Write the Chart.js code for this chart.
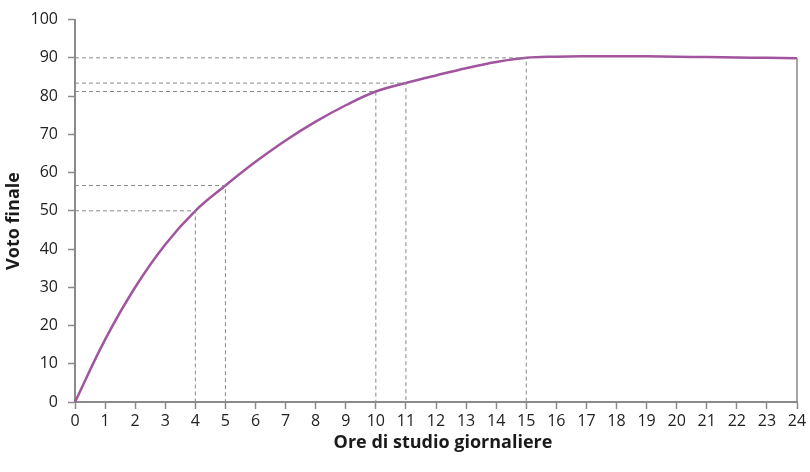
<!DOCTYPE html>
<html>
<head>
<meta charset="utf-8">
<script src="https://cdn.jsdelivr.net/npm/chart.js@4/dist/chart.umd.min.js"></script>
<style>
  html, body { margin: 0; padding: 0; background: #fff; }
  #wrap { width: 810px; height: 472px; }
</style>
</head>
<body>
<div id="wrap"><canvas id="c"></canvas></div>
<script>
// ore di studio (asse x) e voto finale (asse y)
const hours = [0, 1, 2, 3, 4, 5, 6, 7, 8, 9, 10, 11, 12, 13, 14, 15, 16, 17, 18, 19, 20, 21, 22, 23, 24];
const scores = [0, 16.3, 30, 41.2, 50, 56.6, 62.8, 68.4, 73.3, 77.6, 81.2, 83.4, 85.4, 87.3, 88.9, 90, 90.3, 90.4, 90.4, 90.4, 90.3, 90.2, 90.1, 90.0, 89.9];
// punti evidenziati con linee tratteggiate
const guideHours = [4, 5, 10, 11, 15];
const endHour = 24;

const xTitle = "Ore di studio giornaliere";
const yTitle = "Voto finale";

const AXIS = "#8a8a8a";
const CURVE = "#a0559e";

const curvePts = hours.map((h, i) => ({ x: h, y: scores[i] }));

const guideSets = guideHours.map((h) => {
  const v = scores[hours.indexOf(h)];
  return {
    data: [{ x: 0, y: v }, { x: h, y: v }, { x: h, y: 0 }],
    borderColor: AXIS,
    borderWidth: 1,
    borderDash: [4, 3],
    pointRadius: 0,
    tension: 0,
    clip: 4,
  };
});

const endLine = {
  data: [{ x: endHour, y: 0 }, { x: endHour, y: scores[hours.indexOf(endHour)] }],
  borderColor: AXIS,
  borderWidth: 1.5,
  pointRadius: 0,
  tension: 0,
  clip: 4,
};

// titoli degli assi disegnati a mano per posizionarli come nell'originale
const axisTitles = {
  id: "axisTitles",
  afterDraw(chart) {
    const ctx = chart.ctx;
    ctx.save();
    ctx.fillStyle = "#1a1a1a";
    ctx.font = "bold 18px 'Open Sans'";
    ctx.textAlign = "center";
    ctx.textBaseline = "middle";
    ctx.fillText(xTitle, 443, 443);
    ctx.translate(14, 221);
    ctx.rotate(-Math.PI / 2);
    ctx.fillText(yTitle, 0, 0);
    ctx.restore();
  },
};

new Chart(document.getElementById("c").getContext("2d"), {
  type: "line",
  data: {
    datasets: [
      ...guideSets,
      endLine,
      {
        data: curvePts,
        borderColor: CURVE,
        borderWidth: 2.5,
        pointRadius: 0,
        tension: 0.4,
        clip: 4,
      },
    ],
  },
  options: {
    responsive: true,
    maintainAspectRatio: false,
    animation: false,
    layout: { padding: { top: 10, right: 13, left: 0, bottom: 0 } },
    plugins: { legend: { display: false }, tooltip: { enabled: false } },
    scales: {
      x: {
        type: "linear",
        min: 0,
        max: 24,
        afterFit: (s) => { s.height = 70; },
        border: { color: AXIS, width: 2 },
        grid: { drawOnChartArea: false, drawTicks: true, tickLength: 7, tickWidth: 1.5, tickColor: AXIS },
        ticks: { stepSize: 1, padding: 3, color: "#222", font: { family: "'Open Sans'", size: 16 } },
      },
      y: {
        min: 0,
        max: 100,
        afterFit: (s) => { s.width = 75; },
        border: { color: AXIS, width: 2 },
        grid: { drawOnChartArea: false, drawTicks: true, tickLength: 7, tickWidth: 1.5, tickColor: AXIS },
        ticks: { stepSize: 10, padding: 10, color: "#222", font: { family: "'Open Sans'", size: 16 } },
      },
    },
  },
  plugins: [axisTitles],
});
</script>
</body>
</html>
